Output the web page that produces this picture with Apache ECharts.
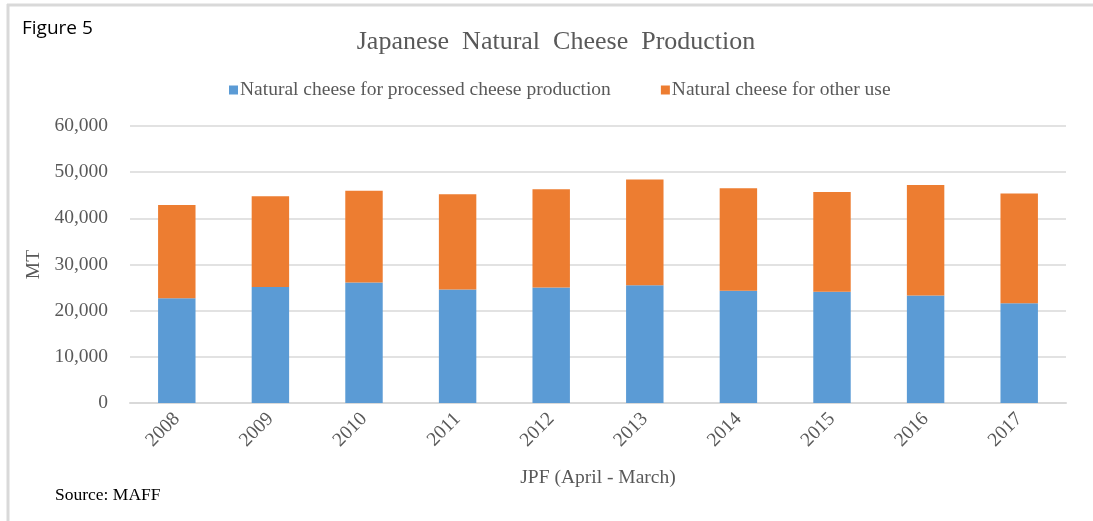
<!DOCTYPE html>
<html>
<head>
<meta charset="utf-8">
<script src="https://cdn.jsdelivr.net/npm/echarts@6/dist/echarts.min.js"></script>
<style>html,body{margin:0;padding:0;background:#fff;}#c{width:1093px;height:521px;}</style>
</head>
<body>
<div id="c"></div>
<script>
const categories = ['2008','2009','2010','2011','2012','2013','2014','2015','2016','2017'];
const processedUse = [22700, 25100, 26100, 24600, 25000, 25500, 24300, 24100, 23300, 21600];
const otherUse = [20200, 19700, 19900, 20600, 21300, 22900, 22200, 21600, 23900, 23800];
const yTicks = [0, 10000, 20000, 30000, 40000, 50000, 60000];

const serif = '"Liberation Serif", "Times New Roman", serif';
const gray = '#595959';
const chart = echarts.init(document.getElementById('c'));
chart.setOption({
  animation: false,
  title: {
    text: 'Japanese  Natural  Cheese  Production',
    left: 551, top: 24, textAlign: 'center',
    textStyle: { fontFamily: serif, fontSize: 26, fontWeight: 'normal', color: gray }
  },
  legend: {
    top: 75, left: 224,
    itemWidth: 9, itemHeight: 9, itemGap: 50,
    icon: 'rect',
    textStyle: { fontFamily: serif, fontSize: 19.5, color: gray, padding: [0,0,0,-3] },
    data: ['Natural cheese for processed cheese production', 'Natural cheese for other use']
  },
  grid: { left: 130, right: 27, top: 126, bottom: 118, containLabel: false },
  xAxis: {
    type: 'category', data: categories,
    name: 'JPF (April - March)', nameLocation: 'middle', nameGap: 65,
    nameTextStyle: { fontFamily: serif, fontSize: 19.5, color: gray },
    axisLine: { lineStyle: { color: '#d9d9d9', width: 2 } },
    axisTick: { show: false },
    axisLabel: { rotate: 45, fontFamily: serif, fontSize: 19.5, color: gray, margin: 13 }
  },
  yAxis: {
    type: 'value', min: yTicks[0], max: yTicks[yTicks.length-1], interval: 10000,
    name: 'MT', nameLocation: 'middle', nameGap: 80,
    nameTextStyle: { fontFamily: serif, fontSize: 19.5, color: gray },
    axisLine: { show: false }, axisTick: { show: false },
    axisLabel: { fontFamily: serif, fontSize: 19.5, color: gray, margin: 22,
      formatter: v => v.toLocaleString('en-US') },
    splitLine: { lineStyle: { color: '#d9d9d9', width: 1.5 } }
  },
  series: [
    { name: 'Natural cheese for processed cheese production', type: 'bar', stack: 'a',
      data: processedUse, barWidth: '40%', itemStyle: { color: '#5B9BD5' } },
    { name: 'Natural cheese for other use', type: 'bar', stack: 'a',
      data: otherUse, barWidth: '40%', itemStyle: { color: '#ED7D31' } }
  ],
  graphic: [
    { type: 'line', shape: { x1: 7, y1: 5, x2: 1093, y2: 5 }, style: { stroke: '#d9d9d9', lineWidth: 3 } },
    { type: 'line', shape: { x1: 8, y1: 4, x2: 8, y2: 521 }, style: { stroke: '#d9d9d9', lineWidth: 3 } },
    { type: 'text', left: 22, top: 19, style: { text: 'Figure 5', font: '19px "Open Sans", "Liberation Sans", sans-serif', fill: '#000' } },
    { type: 'text', left: 55, top: 486, style: { text: 'Source: MAFF', font: '17.5px "Liberation Serif", serif', fill: '#000' } }
  ]
});
</script>
</body>
</html>
